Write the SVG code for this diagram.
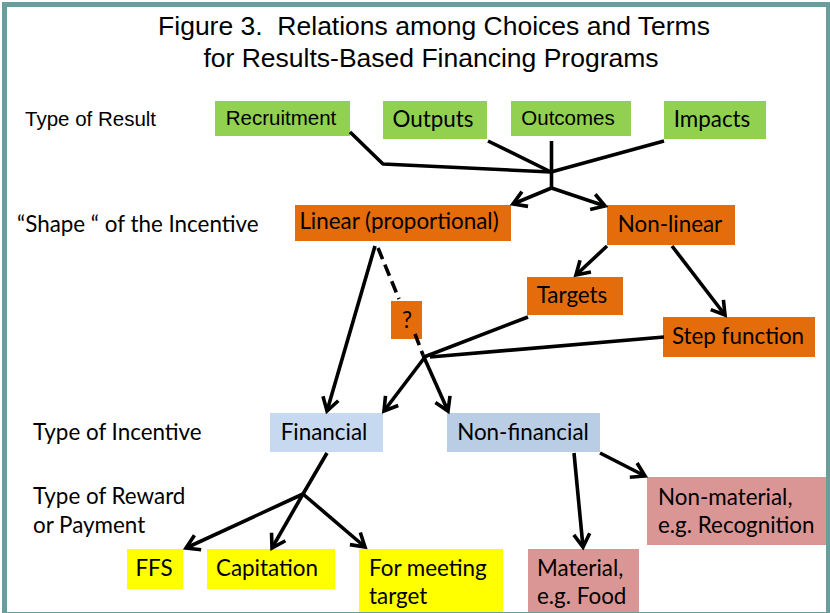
<svg xmlns="http://www.w3.org/2000/svg" width="830" height="613" viewBox="0 0 830 613">
<defs>
<style>
.t{font-family:"Liberation Sans",Arial,sans-serif;fill:#000}
.c{font-family:Lato,"Open Sans",sans-serif;font-size:22.4px;fill:#000}
.m{text-anchor:middle}
.green{fill:#92d050}
.orange{fill:#e46c0a}
.fin{fill:#c6d9f1}
.nfin{fill:#b9cde5}
.yel{fill:#ffff00}
.pink{fill:#d99694}
.ln{fill:none;stroke:#000;stroke-width:3.6;stroke-linejoin:round}
.ar{marker-end:url(#ah)}
.dash{stroke-dasharray:12 6}
</style>
<marker id="ah" markerUnits="userSpaceOnUse" viewBox="-16 -10 20 20" refX="0" refY="0" markerWidth="20" markerHeight="20" orient="auto">
<path d="M-13,-8 L0,0 L-13,8" fill="none" stroke="#000" stroke-width="3.6" stroke-linejoin="miter"/>
</marker>
</defs>
<rect x="0" y="0" width="830" height="613" fill="#fff"/>

<g id="title">
<text class="t m" x="434" y="35" font-size="26.5" xml:space="preserve">Figure 3.  Relations among Choices and Terms</text>
<text class="t m" x="431" y="67" font-size="26.5">for Results-Based Financing Programs</text>
</g>

<g id="row-labels">
<text class="t" x="25" y="126" font-size="20.5">Type of Result</text>
<text class="c" x="17" y="232">“Shape “ of the Incentive</text>
<text class="c" x="33" y="440">Type of Incentive</text>
<text class="c" x="33" y="504">Type of Reward</text>
<text class="c" x="33" y="533">or Payment</text>
</g>

<g id="recruitment"><rect class="green" x="215" y="101" width="135" height="35"/><text class="t m" x="281" y="125" font-size="20.5">Recruitment</text></g>
<g id="outputs"><rect class="green" x="383" y="101" width="104" height="38"/><text class="c m" x="433" y="127">Outputs</text></g>
<g id="outcomes"><rect class="green" x="511" y="101" width="120" height="35"/><text class="t m" x="568" y="125" font-size="20.5">Outcomes</text></g>
<g id="impacts"><rect class="green" x="664" y="101" width="102" height="38"/><text class="c m" x="712" y="127">Impacts</text></g>

<g id="linear"><rect class="orange" x="295" y="205" width="216" height="36"/><text class="c m" x="399" y="229">Linear (proportional)</text></g>
<g id="nonlinear"><rect class="orange" x="607" y="205" width="128" height="40"/><text class="c m" x="670" y="232">Non-linear</text></g>
<g id="targets"><rect class="orange" x="527" y="277" width="96" height="38"/><text class="c m" x="572" y="303">Targets</text></g>
<g id="question"><rect class="orange" x="391" y="301" width="31" height="38"/><text class="c m" x="407" y="328">?</text></g>
<g id="step"><rect class="orange" x="663" y="317" width="152" height="40"/><text class="c m" x="738" y="344">Step function</text></g>

<g id="financial"><rect class="fin" x="270" y="413" width="113" height="39"/><text class="c m" x="324" y="440">Financial</text></g>
<g id="nonfinancial"><rect class="nfin" x="447" y="413" width="153" height="39"/><text class="c m" x="523" y="440">Non-financial</text></g>

<g id="ffs"><rect class="yel" x="127" y="549" width="56" height="40"/><text class="c m" x="154" y="576">FFS</text></g>
<g id="capitation"><rect class="yel" x="207" y="549" width="128" height="40"/><text class="c m" x="267" y="576">Capitation</text></g>
<g id="meeting"><rect class="yel" x="359" y="549" width="144" height="64"/><text class="c" x="369" y="576">For meeting</text><text class="c" x="369" y="604">target</text></g>
<g id="material"><rect class="pink" x="528" y="549" width="111" height="64"/><text class="c" x="537" y="576">Material,</text><text class="c" x="537" y="604">e.g. Food</text></g>
<g id="nonmaterial"><rect class="pink" x="647" y="477" width="180" height="68"/><text class="c" x="658" y="505">Non-material,</text><text class="c" x="658" y="533">e.g. Recognition</text></g>

<g id="connectors">
<polyline class="ln" points="350,132 383,164 551,172"/>
<line class="ln" x1="488" y1="141" x2="551" y2="172"/>
<line class="ln" x1="551.5" y1="141" x2="551.5" y2="188"/>
<line class="ln" x1="664" y1="141" x2="551" y2="172"/>
<line class="ln ar" x1="551.5" y1="188" x2="513" y2="204"/>
<line class="ln ar" x1="551.5" y1="188" x2="605" y2="206"/>
<line class="ln ar" x1="607" y1="246" x2="576" y2="275"/>
<line class="ln ar" x1="672" y1="246" x2="725" y2="315"/>
<line class="ln ar" x1="375" y1="246" x2="327" y2="411"/>
<line class="ln dash" x1="378" y1="248" x2="399" y2="299"/>
<line class="ln dash" x1="415" y1="334" x2="423" y2="355"/>
<line class="ln ar" x1="423" y1="355" x2="448" y2="411"/>
<line class="ln" x1="528" y1="317" x2="424" y2="357"/>
<line class="ln" x1="664" y1="337" x2="430" y2="357"/>
<line class="ln ar" x1="425" y1="357" x2="384" y2="411"/>
<line class="ln" x1="327" y1="453" x2="303" y2="494"/>
<line class="ln ar" x1="303" y1="494" x2="186" y2="548"/>
<line class="ln ar" x1="303" y1="494" x2="272" y2="548"/>
<line class="ln ar" x1="303" y1="494" x2="365" y2="547"/>
<line class="ln ar" x1="574" y1="453" x2="583" y2="547"/>
<line class="ln ar" x1="600" y1="453" x2="645" y2="476"/>
</g>

<rect x="4.5" y="4.5" width="824" height="610" fill="none" stroke="#6a9e9c" stroke-width="5"/>
</svg>
